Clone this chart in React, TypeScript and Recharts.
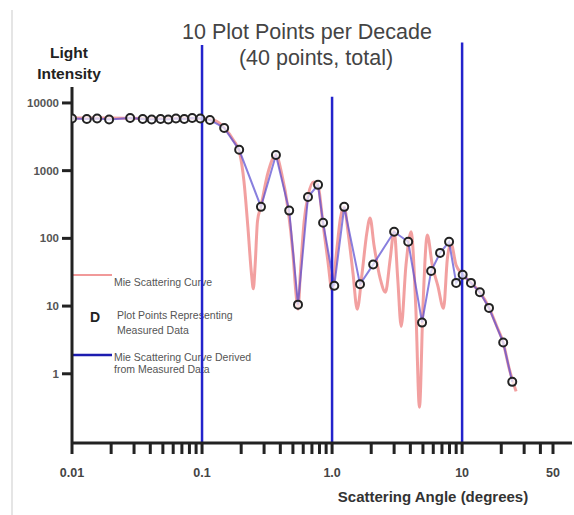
import React from 'react';
import { ComposedChart, Line, XAxis, YAxis, ReferenceLine } from 'recharts';

// Mie scattering curve (red)
const mieX = [0.01, 0.02, 0.04, 0.07, 0.1, 0.125, 0.148, 0.175, 0.195, 0.21, 0.225, 0.24, 0.248, 0.256, 0.267, 0.284, 0.32, 0.37, 0.41, 0.46, 0.5, 0.53, 0.548, 0.57, 0.61, 0.653, 0.72, 0.78, 0.85, 0.93, 1.0, 1.08, 1.16, 1.24, 1.33, 1.45, 1.56, 1.7, 1.85, 1.96, 2.1, 2.35, 2.57, 2.8, 3.0, 3.2, 3.4, 3.7, 4.05, 4.4, 4.7, 5.0, 5.4, 5.9, 6.5, 7.2, 7.7, 8.2, 9.0, 10.0, 11.7, 13.7, 16.1, 18.5, 20.7, 23.0, 26.0];
const mieY = [6000, 6000, 5900, 6000, 5900, 5500, 4300, 2800, 1800, 700, 150, 30, 18, 40, 180, 300, 900, 1700, 900, 260, 60, 14, 9, 30, 180, 420, 680, 600, 170, 45, 17, 60, 200, 290, 120, 30, 9, 30, 120, 200, 80, 25, 16, 50, 130, 25, 5, 40, 125, 10, 0.32, 10, 112, 40, 20, 9.3, 50, 85, 40, 30, 22, 16, 9.5, 5, 2.9, 1.2, 0.55];

// Measured data points (40 points)
const measuredX = [0.01, 0.013, 0.0156, 0.0193, 0.028, 0.035, 0.041, 0.048, 0.055, 0.063, 0.073, 0.084, 0.097, 0.115, 0.148, 0.193, 0.284, 0.37, 0.468, 0.547, 0.653, 0.78, 0.853, 1.04, 1.24, 1.64, 2.07, 3.0, 3.85, 4.92, 5.78, 6.77, 7.94, 9.0, 10.1, 11.7, 13.7, 16.1, 20.7, 24.3];
const measuredY = [5900, 5800, 5900, 5700, 6000, 5800, 5700, 5800, 5700, 5900, 5800, 6000, 5900, 5600, 4270, 2030, 292, 1700, 257, 10.5, 408, 617, 170, 20, 292, 21, 41, 125, 89, 5.7, 33, 61, 89, 22, 29, 22, 16, 9.4, 2.9, 0.76];

// Decade markers (vertical blue lines) and how high each one reaches
const decadeX = [0.1, 1, 10];
const decadeTop = [72000, 12300, 78000];

// Axis ticks
const xTicks = [0.01, 0.02, 0.03, 0.04, 0.05, 0.06, 0.07, 0.08, 0.09, 0.1, 0.2, 0.3, 0.4, 0.5, 0.6, 0.7, 0.8, 0.9, 1, 2, 3, 4, 5, 6, 7, 8, 9, 10, 20, 30, 40, 50];
const xLabelValues = [0.01, 0.1, 1, 10, 50];
const xLabelTexts = ['0.01', '0.1', '1.0', '10', '50'];
const yTicks = [1, 10, 100, 1000, 10000];
const yLabelTexts = ['1', '10', '100', '1000', '10000'];

const mieData = mieX.map((x, i) => ({ x, y: mieY[i] }));
const measuredData = measuredX.map((x, i) => ({ x, y: measuredY[i] }));

const W = 574;
const H = 515;
const Y_MIN = 0.095;
const FONT = '"Liberation Sans", Arial, sans-serif';

const PointDot = (props: any) => {
  const { cx, cy, index } = props;
  if (cx == null || cy == null) return null;
  return <circle key={`d${index}`} cx={cx} cy={cy} r={4} fill="#ffffff" fillOpacity={0.7} stroke="#222" strokeWidth={2} />;
};

export default function App() {
  return (
    <div style={{ position: 'absolute', left: 0, top: 0, width: W, height: H, background: '#fff', fontFamily: FONT }}>
      <svg width={W} height={H} style={{ position: 'absolute', left: 0, top: 0 }}>
        <line x1={12} y1={10} x2={12} y2={H} stroke="#dddddd" strokeWidth={1.5} />
        <text x={307} y={39} textAnchor="middle" fontSize={21.5} fill="#444" fontFamily={FONT}>10 Plot Points per Decade</text>
        <text x={316} y={65} textAnchor="middle" fontSize={21.5} fill="#444" fontFamily={FONT}>(40 points, total)</text>
        <text x={69} y={58} textAnchor="middle" fontSize={15.5} fontWeight="bold" fill="#222" fontFamily={FONT}>Light</text>
        <text x={69} y={79} textAnchor="middle" fontSize={15.5} fontWeight="bold" fill="#222" fontFamily={FONT}>Intensity</text>
        <text x={433} y={502} textAnchor="middle" fontSize={15} fontWeight="bold" fill="#333" fontFamily={FONT}>Scattering Angle (degrees)</text>
        {/* legend */}
        <line x1={72} y1={275} x2={112} y2={275} stroke="#ee8080" strokeOpacity={0.8} strokeWidth={2} />
        <text x={114} y={286} fontSize={10.5} fill="#555" fontFamily={FONT}>Mie Scattering Curve</text>
        <text x={95} y={322} textAnchor="middle" fontSize={14} fontWeight="bold" fill="#222" fontFamily={FONT}>D</text>
        <text x={117} y={319} fontSize={10.5} fill="#555" fontFamily={FONT}>Plot Points Representing</text>
        <text x={117} y={334} fontSize={10.5} fill="#555" fontFamily={FONT}>Measured Data</text>
        <line x1={72} y1={355} x2={112} y2={355} stroke="#1c1cb0" strokeWidth={2.5} />
        <text x={114} y={361} fontSize={10.5} fill="#555" fontFamily={FONT}>Mie Scattering Curve Derived</text>
        <text x={114} y={373} fontSize={10.5} fill="#555" fontFamily={FONT}>from Measured Data</text>
      </svg>
      <div style={{ position: 'absolute', left: 0, top: 0 }}>
        <ComposedChart width={W} height={H} margin={{ top: 87, right: 2, bottom: 42, left: 12 }} style={{ fontFamily: FONT }}>
          <XAxis
            dataKey="x"
            type="number"
            scale="log"
            domain={[0.01, 70]}
            allowDataOverflow
            ticks={xTicks}
            interval={0}
            height={30}
            tickSize={11}
            tickMargin={14}
            axisLine={{ stroke: '#222', strokeWidth: 3 }}
            tickLine={{ stroke: '#222', strokeWidth: 3 }}
            tick={{ fontSize: 12.5, fontWeight: 'bold', fill: '#444' }}
            tickFormatter={(v: number) => {
              const i = xLabelValues.findIndex((t) => Math.abs(t - v) < 1e-9);
              return i >= 0 ? xLabelTexts[i] : '';
            }}
          />
          <YAxis
            dataKey="y"
            type="number"
            scale="log"
            domain={[Y_MIN, 17200]}
            allowDataOverflow
            ticks={yTicks}
            interval={0}
            width={60}
            tickSize={10}
            tickMargin={3}
            axisLine={{ stroke: '#222', strokeWidth: 3 }}
            tickLine={{ stroke: '#222', strokeWidth: 3 }}
            tick={{ fontSize: 11.5, fontWeight: 'bold', fill: '#555' }}
            tickFormatter={(v: number) => {
              const i = yTicks.findIndex((t) => Math.abs(t - v) < 1e-9);
              return i >= 0 ? yLabelTexts[i] : '';
            }}
          />
          <Line
            data={mieData}
            dataKey="y"
            type="monotone"
            stroke="#ee8080"
            strokeOpacity={0.75}
            strokeWidth={3}
            dot={false}
            activeDot={false}
            isAnimationActive={false}
          />
          <Line
            data={measuredData}
            dataKey="y"
            type="linear"
            stroke="#5548d0"
            strokeOpacity={0.7}
            strokeWidth={2}
            dot={<PointDot />}
            activeDot={false}
            isAnimationActive={false}
          />
          {decadeX.map((x, i) => (
            <ReferenceLine
              key={`v${i}`}
              segment={[{ x, y: Y_MIN }, { x, y: decadeTop[i] }]}
              stroke="#2323cc"
              strokeWidth={2.5}
              ifOverflow="visible"
            />
          ))}
        </ComposedChart>
      </div>
    </div>
  );
}
